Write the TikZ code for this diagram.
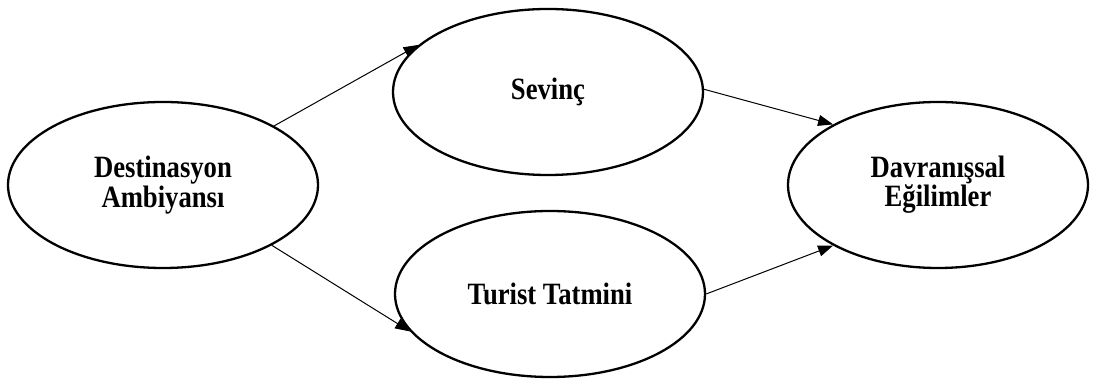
\documentclass[tikz,border=0pt]{standalone}
\usepackage{fontspec}
\setmainfont{Liberation Serif}
% condensed lettering for the construct labels
\newfontfamily\labelfont[FakeStretch=0.86]{Liberation Serif}
\usetikzlibrary{shapes.geometric,arrows.meta}
\begin{document}
\begin{tikzpicture}[x=1pt,y=1pt,
  construct/.style={ellipse,draw,line width=2.3pt,inner sep=0pt,
    minimum width=310pt,minimum height=166pt,align=center,
    font=\labelfont\fontsize{31}{28}\selectfont\bfseries},
  path/.style={line width=1pt,-{Triangle[length=15pt,width=11pt]}}]
  \useasboundingbox (0,0) rectangle (1096,380);
  % constructs of the model
  \node[construct] (amb) at (163,195) {Destinasyon\\Ambiyansı};
  \node[construct] (sev) at (548,288) {Sevinç};
  \node[construct] (tat) at (550,86) {Turist Tatmini};
  \node[construct,minimum width=300pt] (dav) at (938,195) {Davranışsal\\Eğilimler};
  % hypothesised paths
  \draw[path] (amb.28) -- (sev.160);
  \draw[path] (amb.-29) -- (tat.195);
  \draw[path] (sev.1) -- (dav.150);
  \draw[path] (tat.0) -- (dav.210);
\end{tikzpicture}
\end{document}
